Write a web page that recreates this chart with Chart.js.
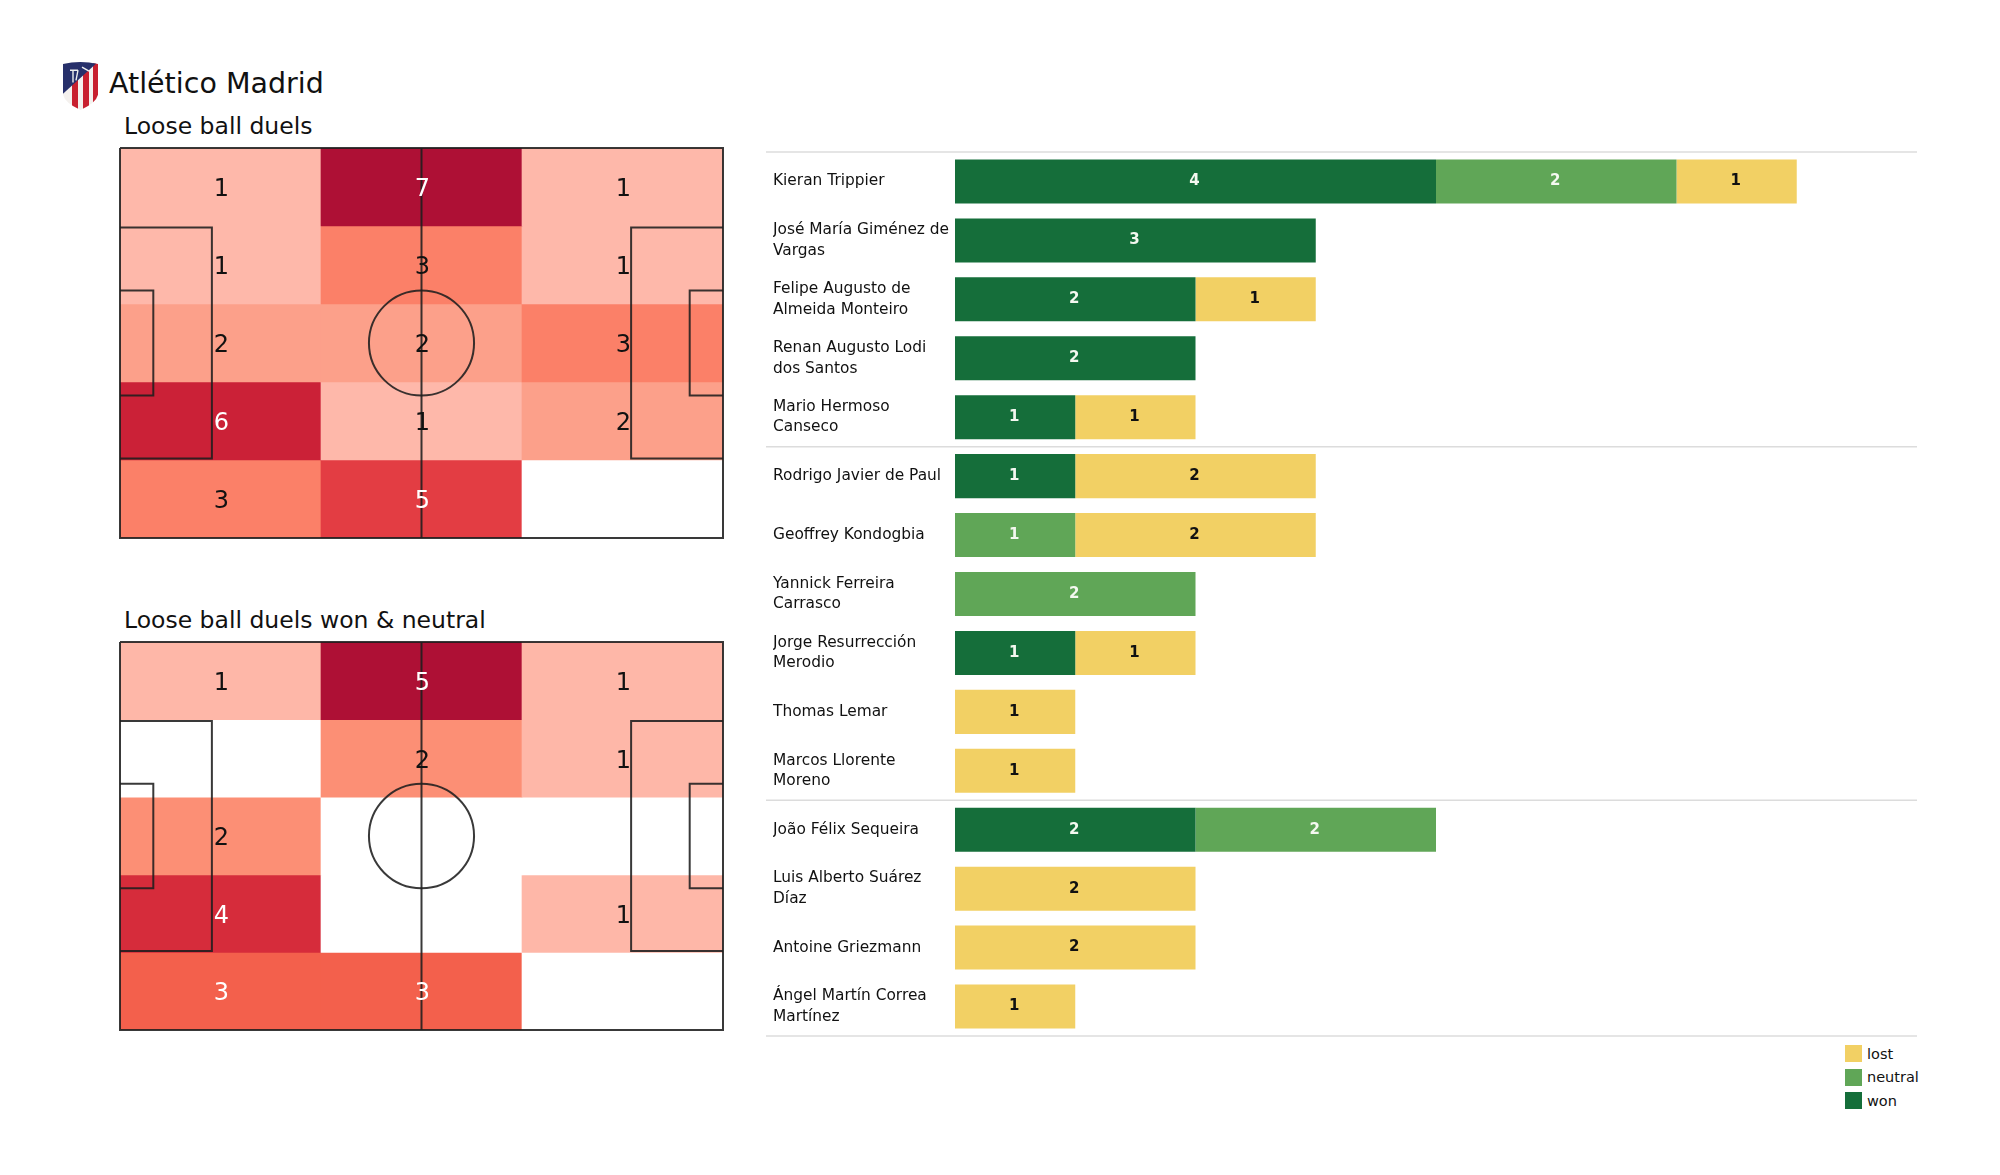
<!DOCTYPE html>
<html>
<head>
<meta charset="utf-8">
<title>Atlético Madrid</title>
<script src="https://cdn.jsdelivr.net/npm/chart.js@4"></script>
<style>
  html, body { margin: 0; padding: 0; background: #fff; }
  body { position: relative; width: 2000px; height: 1175px; overflow: hidden; font-family: "DejaVu Sans", sans-serif; color: #111; }
  canvas, .txt, #logo, #legend { position: absolute; }
  .txt { white-space: nowrap; line-height: 1; }
  #legend { left: 1845px; top: 1042px; font-size: 14.5px; }
  #legend div { height: 23.5px; display: flex; align-items: center; white-space: nowrap; }
  #legend i { display: inline-block; width: 17px; height: 17px; margin-right: 5px; }
</style>
</head>
<body>
<svg id="logo" style="left:62px;top:61px" width="37" height="50" viewBox="0 0 37 49" preserveAspectRatio="none">
  <defs><clipPath id="shield"><path d="M1 3 Q18 -1 36 3 L36 33 Q34 41 18.5 48 Q3 41 1 33 Z"/></clipPath></defs>
  <g clip-path="url(#shield)">
    <rect width="37" height="49" fill="#f4f1ee"/>
    <rect x="10" y="10" width="6" height="39" fill="#c8202f"/>
    <rect x="21" y="6" width="6" height="43" fill="#c8202f"/>
    <rect x="31" y="0" width="6" height="49" fill="#c8202f"/>
    <path d="M0 0 H37 L0 33 Z" fill="#27306b"/>
    <path d="M8 9 H16 M11 9 V21 M16 9 L14 19 M20 6 L27 10" stroke="#eee" stroke-width="1.4" fill="none"/>
  </g>
</svg>
<div class="txt" id="title" style="left:109px;top:70px;font-size:28.5px">Atlético Madrid</div>
<div class="txt" id="sub1" style="left:124px;top:115px;font-size:23.5px">Loose ball duels</div>
<div class="txt" id="sub2" style="left:124px;top:609px;font-size:23.5px">Loose ball duels won &amp; neutral</div>

<canvas id="pitchAll" style="left:118px;top:146px" width="607" height="394"></canvas>
<canvas id="pitchWon" style="left:118px;top:640px" width="607" height="392"></canvas>
<canvas id="players" style="left:766px;top:150px" width="1153" height="888"></canvas>
<div id="legend"></div>

<script>
// heatmap values, top row first
var zoneColumns = ['left', 'centre', 'right'];
var duelsAll = [
    [1, 7, 1],
    [1, 3, 1],
    [2, 2, 3],
    [6, 1, 2],
    [3, 5, 0]
];
var duelsWonNeutral = [
    [1, 5, 1],
    [0, 2, 1],
    [2, 0, 0],
    [4, 0, 1],
    [3, 3, 0]
];

// bars
var players = [
    ['Kieran Trippier'],
    ['José María Giménez de', 'Vargas'],
    ['Felipe Augusto de', 'Almeida Monteiro'],
    ['Renan Augusto Lodi', 'dos Santos'],
    ['Mario Hermoso', 'Canseco'],
    ['Rodrigo Javier de Paul'],
    ['Geoffrey Kondogbia'],
    ['Yannick Ferreira', 'Carrasco'],
    ['Jorge Resurrección', 'Merodio'],
    ['Thomas Lemar'],
    ['Marcos Llorente', 'Moreno'],
    ['João Félix Sequeira'],
    ['Luis Alberto Suárez', 'Díaz'],
    ['Antoine Griezmann'],
    ['Ángel Martín Correa', 'Martínez']
];
var won     = [4, 3, 2, 2, 1, 1, 0, 0, 1, 0, 0, 2, 0, 0, 0];
var neutral = [2, 0, 0, 0, 0, 0, 1, 2, 0, 0, 0, 2, 0, 0, 0];
var lost    = [1, 0, 1, 0, 1, 2, 2, 0, 1, 1, 1, 0, 2, 2, 1];
var groupEnds = [5, 11];

// colours per count
var rampAll = { 1: '#feb8aa', 2: '#fca08a', 3: '#fb8068', 5: '#e33d43', 6: '#cb2137', 7: '#ae1035' };
var rampWon = { 1: '#feb7a8', 2: '#fc8f75', 3: '#f3604c', 4: '#d62c3b', 5: '#ae1035' };
var WON = '#156e3a', NEUTRAL = '#60a657', LOST = '#f2d064';

// pitch outline in metres
var pitchLines = [
    [[0, 0], [105, 0], [105, 68], [0, 68], [0, 0]],
    [[52.5, 0], [52.5, 68]],
    [[0, 13.84], [16, 13.84], [16, 54.16], [0, 54.16]],
    [[0, 24.84], [5.8, 24.84], [5.8, 43.16], [0, 43.16]],
    [[105, 13.84], [89, 13.84], [89, 54.16], [105, 54.16]],
    [[105, 24.84], [99.2, 24.84], [99.2, 43.16], [105, 43.16]]
];

var pitchPlugin = {
    id: 'pitch',
    afterDatasetsDraw: function (chart) {
        var ctx = chart.ctx, px = chart.scales.px, py = chart.scales.py;
        ctx.save();
        ctx.strokeStyle = 'rgba(30,30,30,0.88)';
        ctx.lineWidth = 2;
        pitchLines.forEach(function (line) {
            ctx.beginPath();
            line.forEach(function (p, i) {
                if (i === 0) ctx.moveTo(px.getPixelForValue(p[0]), py.getPixelForValue(p[1]));
                else ctx.lineTo(px.getPixelForValue(p[0]), py.getPixelForValue(p[1]));
            });
            ctx.stroke();
        });
        ctx.beginPath();
        ctx.ellipse(px.getPixelForValue(52.5), py.getPixelForValue(34),
            px.getPixelForValue(9.15) - px.getPixelForValue(0),
            py.getPixelForValue(9.15) - py.getPixelForValue(0), 0, 0, Math.PI * 2);
        ctx.stroke();

        // counts go on top of the lines
        ctx.font = '24px "DejaVu Sans"';
        ctx.textAlign = 'center';
        ctx.textBaseline = 'middle';
        chart.data.datasets.forEach(function (ds, r) {
            chart.getDatasetMeta(r).data.forEach(function (bar, c) {
                var n = ds.counts[c];
                if (!n) return;
                var top = Math.min(bar.y, bar.base), bottom = Math.max(bar.y, bar.base);
                ctx.fillStyle = ds.textColors[c];
                ctx.fillText(n, bar.x + 1, (top + bottom) / 2 + 3);
            });
        });
        ctx.restore();
    }
};

function drawPitch(id, rows, ramp, whiteFrom) {
    var datasets = rows.map(function (row, r) {
        return {
            data: row.map(function () { return [r, r + 1]; }),
            counts: row,
            textColors: row.map(function (n) { return n >= whiteFrom ? '#fff' : '#111'; }),
            backgroundColor: row.map(function (n) { return n ? ramp[n] : '#fff'; }),
            barPercentage: 1,
            categoryPercentage: 1,
            borderWidth: 0,
            grouped: false
        };
    });
    return new Chart(document.getElementById(id), {
        type: 'bar',
        data: { labels: zoneColumns, datasets: datasets },
        options: {
            responsive: false,
            animation: false,
            layout: { padding: 2 },
            plugins: { legend: { display: false }, tooltip: { enabled: false } },
            scales: {
                x: { display: false },
                y: { display: false, type: 'linear', min: 0, max: 5, reverse: true },
                px: { display: false, type: 'linear', axis: 'x', min: 0, max: 105, offset: false },
                py: { display: false, type: 'linear', axis: 'y', min: 0, max: 68, reverse: true, offset: false }
            }
        },
        plugins: [pitchPlugin]
    });
}

drawPitch('pitchAll', duelsAll, rampAll, 5);
drawPitch('pitchWon', duelsWonNeutral, rampWon, 3);

var barPlugin = {
    id: 'barExtras',
    beforeDatasetsDraw: function (chart) {
        var ctx = chart.ctx, y = chart.scales.y, area = chart.chartArea;
        ctx.save();
        ctx.strokeStyle = '#dcdcdc';
        ctx.lineWidth = 1.5;
        var lines = [-0.5].concat(groupEnds.map(function (g) { return g - 0.5; }), [players.length - 0.5]);
        lines.forEach(function (v) {
            var yy = y.getPixelForValue(v);
            ctx.beginPath();
            ctx.moveTo(0, yy);
            ctx.lineTo(area.right, yy);
            ctx.stroke();
        });
        ctx.restore();
    },
    afterDatasetsDraw: function (chart) {
        var ctx = chart.ctx;
        ctx.save();
        ctx.font = 'bold 15px "DejaVu Sans"';
        ctx.textAlign = 'center';
        ctx.textBaseline = 'middle';
        chart.data.datasets.forEach(function (ds, d) {
            chart.getDatasetMeta(d).data.forEach(function (bar, i) {
                if (!ds.data[i]) return;
                ctx.fillStyle = ds.label === 'lost' ? '#111' : '#f4f8f0';
                ctx.fillText(ds.data[i], (bar.x + bar.base) / 2 - 1, bar.y);
            });
        });
        ctx.restore();
    }
};

new Chart(document.getElementById('players'), {
    type: 'bar',
    data: {
        labels: players,
        datasets: [
            { label: 'won', data: won, backgroundColor: WON },
            { label: 'neutral', data: neutral, backgroundColor: NEUTRAL },
            { label: 'lost', data: lost, backgroundColor: LOST }
        ]
    },
    options: {
        indexAxis: 'y',
        responsive: false,
        animation: false,
        layout: { padding: { left: 7, right: 2, top: 2, bottom: 2 } },
        datasets: { bar: { barPercentage: 1, categoryPercentage: 0.747, borderWidth: 0 } },
        plugins: { legend: { display: false }, tooltip: { enabled: false } },
        scales: {
            x: { display: false, stacked: true, min: 0, max: 8 },
            y: {
                stacked: true,
                grid: { display: false },
                border: { display: false },
                afterFit: function (scale) {
                    scale.width = 182;
                    scale.paddingTop = 0;
                    scale.paddingBottom = 0;
                },
                ticks: {
                    crossAlign: 'far',
                    autoSkip: false,
                    padding: 0,
                    color: '#111',
                    font: { family: '"DejaVu Sans"', size: 15.4, lineHeight: 1.33 }
                }
            }
        }
    },
    plugins: [barPlugin]
});

// legend, last series first
[['lost', LOST], ['neutral', NEUTRAL], ['won', WON]].forEach(function (item) {
    var row = document.createElement('div');
    var box = document.createElement('i');
    box.style.background = item[1];
    row.appendChild(box);
    row.appendChild(document.createTextNode(item[0]));
    document.getElementById('legend').appendChild(row);
});
</script>
</body>
</html>
